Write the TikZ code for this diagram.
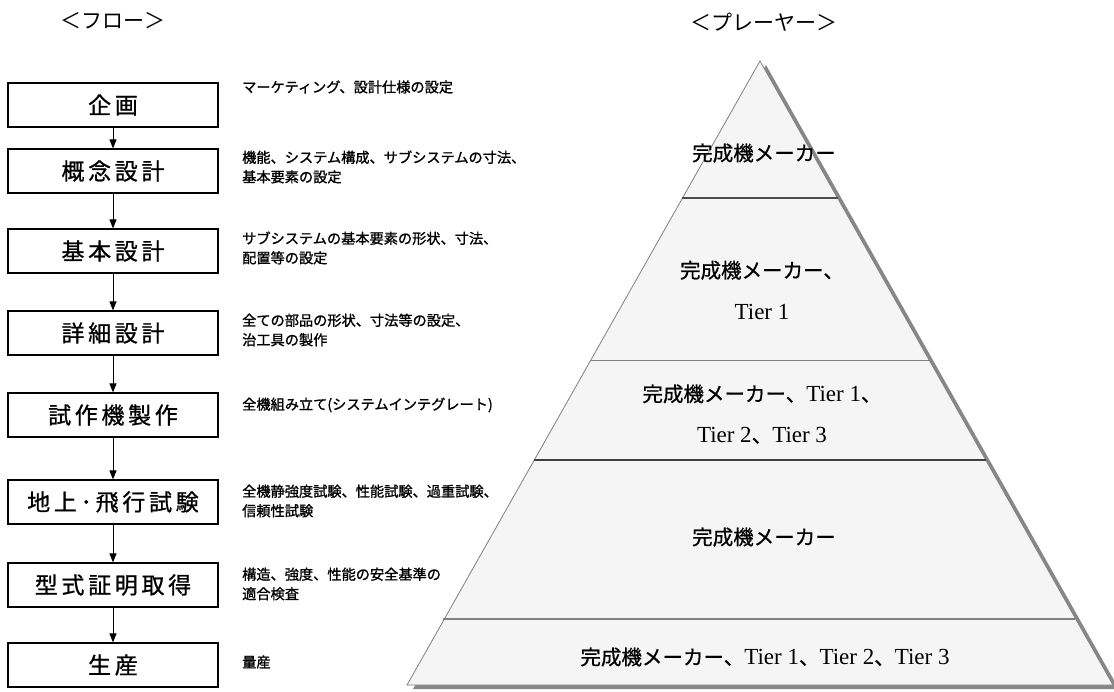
\documentclass[tikz,border=0pt]{standalone}
\usepackage{fontspec}
\setmainfont{Liberation Serif}
\newfontfamily\jp{Noto Sans CJK JP}
\newfontfamily\jpbox{Noto Sans CJK JP}[LetterSpace=16, FakeBold=0.9]
\newfontfamily\jpdesc{Noto Sans CJK JP}[FakeBold=1.2]
\newfontfamily\jppyr{Noto Sans CJK JP}[FakeBold=0.7]
\usetikzlibrary{arrows.meta,calc}
\newcommand{\tier}[1]{{\rmfamily\fontsize{23}{41}\selectfont Tier #1}}
\begin{document}
\begin{tikzpicture}[x=1pt,y=-1pt,
  flowbox/.style={draw=black, line width=1.2pt, minimum width=210pt, minimum height=44pt, inner sep=0pt, font=\jpbox\fontsize{23}{26}\selectfont},
  desc/.style={anchor=west, align=left, inner sep=0pt, font=\jpdesc\fontsize{14.2}{19.5}\selectfont},
  title/.style={font=\jp\fontsize{21}{24}\selectfont, inner sep=0pt},
  ptext/.style={align=center, inner sep=0pt, font=\jppyr\fontsize{20.5}{41}\selectfont},
  flowarrow/.style={-{Triangle[length=9pt,width=7pt]}, line width=1pt},
  divline/.style={line width=1.4pt}]
\useasboundingbox (0,0) rectangle (1114,691);
% titles
\node[title] (t1) at (113,21) {＜フロー＞};
\node[title] (t2) at (764,22) {＜プレーヤー＞};
% flow boxes
\node[flowbox] (b1) at (113,105) {企画};
\node[flowbox] (b2) at (113,171) {概念設計};
\node[flowbox] (b3) at (113,251) {基本設計};
\node[flowbox] (b4) at (113,333) {詳細設計};
\node[flowbox] (b5) at (113,415) {試作機製作};
\node[flowbox] (b6) at (113,502) {地上･飛行試験};
\node[flowbox] (b7) at (113,585) {型式証明取得};
\node[flowbox] (b8) at (113,665) {生産};
\foreach \a/\b in {b1/b2,b2/b3,b3/b4,b4/b5,b5/b6,b6/b7,b7/b8}
  \draw[flowarrow] (\a.south) -- (\b.north);
% descriptions
\node[desc] (d1) at (242,87) {マーケティング、設計仕様の設定};
\node[desc] (d2) at (242,167) {機能、システム構成、サブシステムの寸法、\\基本要素の設定};
\node[desc] (d3) at (242,248) {サブシステムの基本要素の形状、寸法、\\配置等の設定};
\node[desc] (d4) at (242,330) {全ての部品の形状、寸法等の設定、\\治工具の製作};
\node[desc] (d5) at (242,405) {全機組み立て(システムインテグレート)};
\node[desc] (d6) at (242,501) {全機静強度試験、性能試験、過重試験、\\信頼性試験};
\node[desc] (d7) at (242,584) {構造、強度、性能の安全基準の\\適合検査};
\node[desc] (d8) at (242,662) {量産};
% pyramid
\coordinate (A) at (760,61);
\coordinate (BL) at (407,685);
\coordinate (BR) at (1113,685);
\fill[black!47] ([shift={(6,4)}]A) -- ([shift={(6,4)}]BL) -- ([shift={(6,4)}]BR) -- cycle;
\fill[black!4] (A) -- (BL) -- (BR) -- cycle;
\draw[black!50, line width=0.8pt] (BR) -- (A) -- (BL) -- (BR);
\draw[divline, black!70] ($(A)!0.2196!(BL)$) -- ($(A)!0.2196!(BR)$);
\draw[divline, black!50, line width=1.8pt] ($(A)!0.480!(BL)$) -- ($(A)!0.480!(BR)$);
\draw[divline, black!75] ($(A)!0.6394!(BL)$) -- ($(A)!0.6394!(BR)$);
\draw[divline, black!50, line width=2pt] ($(A)!0.8936!(BL)+(-2,0)$) -- ($(A)!0.8936!(BR)$);
\node[ptext] (p1) at (764,153) {完成機メーカー};
\node[ptext] (p2) at (762,290) {完成機メーカー、\\\tier{1}};
\node[ptext] (p3) at (762,414) {完成機メーカー、\tier{1}、\\\tier{2}、\tier{3}};
\node[ptext] (p4) at (764,537) {完成機メーカー};
\node[ptext] (p5) at (765,657) {完成機メーカー、\tier{1}、\tier{2}、\tier{3}};
\end{tikzpicture}
\end{document}
